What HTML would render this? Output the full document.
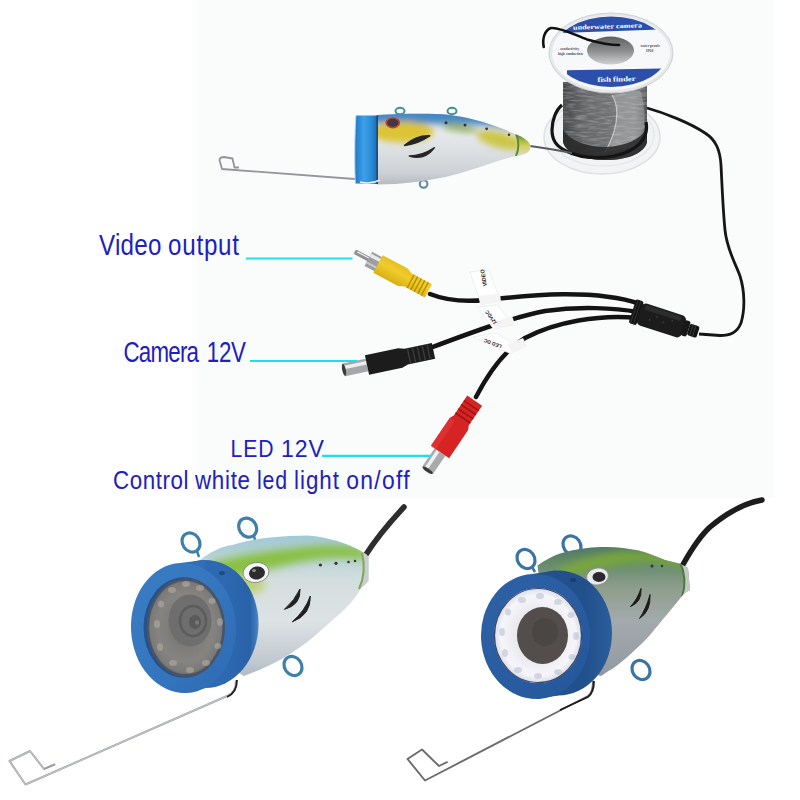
<!DOCTYPE html>
<html><head><meta charset="utf-8"><title>Underwater fish finder camera</title>
<style>
html,body{margin:0;padding:0;background:#fff;width:800px;height:800px;overflow:hidden}
svg{display:block}
text{font-family:"Liberation Sans",sans-serif}
</style></head><body>
<svg width="800" height="800" viewBox="0 0 800 800">
<defs>
  <linearGradient id="capTop" x1="0" y1="0" x2="1" y2="0">
    <stop offset="0" stop-color="#1f78c8"/><stop offset="0.4" stop-color="#3ea0e8"/><stop offset="0.75" stop-color="#2a8ad6"/><stop offset="1" stop-color="#1e68ae"/>
  </linearGradient>
  <linearGradient id="bodyTop" x1="0" y1="0" x2="0" y2="1">
    <stop offset="0" stop-color="#4a8cc0"/><stop offset="0.12" stop-color="#8db8d6"/>
    <stop offset="0.22" stop-color="#c9c86a"/><stop offset="0.38" stop-color="#d8cf58"/>
    <stop offset="0.55" stop-color="#e6e8ea"/><stop offset="0.8" stop-color="#d6dadd"/><stop offset="1" stop-color="#aeb4ba"/>
  </linearGradient>
  <linearGradient id="drum" x1="0" y1="0" x2="1" y2="0">
    <stop offset="0" stop-color="#46484a"/><stop offset="0.25" stop-color="#66686a"/><stop offset="0.55" stop-color="#707274"/><stop offset="0.85" stop-color="#7a7c7e"/><stop offset="1" stop-color="#505254"/>
  </linearGradient>
  <linearGradient id="hole" x1="0" y1="0" x2="0" y2="1">
    <stop offset="0" stop-color="#5e6062"/><stop offset="0.5" stop-color="#8a8c8e"/><stop offset="1" stop-color="#cfd1d3"/>
  </linearGradient>
  <linearGradient id="yellow" x1="0" y1="0" x2="0" y2="1">
    <stop offset="0" stop-color="#e6c020"/><stop offset="0.4" stop-color="#f0cc2c"/><stop offset="1" stop-color="#d8b014"/>
  </linearGradient>
  <linearGradient id="bodyL" x1="0" y1="0" x2="0" y2="1">
    <stop offset="0" stop-color="#9cc6d8"/><stop offset="0.12" stop-color="#b0cfd8"/>
    <stop offset="0.3" stop-color="#d4dede"/><stop offset="0.55" stop-color="#dde2e4"/>
    <stop offset="0.8" stop-color="#c0c8d0"/><stop offset="1" stop-color="#9aa8b8"/>
  </linearGradient>
  <linearGradient id="bodyR" x1="0" y1="0" x2="0" y2="1">
    <stop offset="0" stop-color="#4a6e6c"/><stop offset="0.12" stop-color="#5e8868"/>
    <stop offset="0.3" stop-color="#8e9e8c"/><stop offset="0.5" stop-color="#a2aaac"/>
    <stop offset="0.8" stop-color="#949ca4"/><stop offset="1" stop-color="#7a8494"/>
  </linearGradient>
  <radialGradient id="lensL" cx="0.5" cy="0.5" r="0.5">
    <stop offset="0" stop-color="#707070"/><stop offset="0.7" stop-color="#868480"/><stop offset="0.92" stop-color="#7a7a7a"/><stop offset="1" stop-color="#4c525c"/>
  </radialGradient>
  <radialGradient id="ledR" cx="0.5" cy="0.5" r="0.5">
    <stop offset="0.5" stop-color="#e8e8ef"/><stop offset="0.85" stop-color="#f6f6fa"/><stop offset="1" stop-color="#d8dce8"/>
  </radialGradient>
  <linearGradient id="tcBase" x1="0" y1="0" x2="0" y2="1">
    <stop offset="0" stop-color="#c0d2e0"/><stop offset="0.35" stop-color="#e6e9ec"/><stop offset="0.55" stop-color="#dcdfe2"/><stop offset="0.8" stop-color="#cdd1d5"/><stop offset="1" stop-color="#aab0b6"/>
  </linearGradient>
  <filter id="blur4" x="-20%" y="-50%" width="140%" height="200%"><feGaussianBlur stdDeviation="4"/></filter>
  <filter id="blur2" x="-20%" y="-50%" width="140%" height="200%"><feGaussianBlur stdDeviation="2"/></filter>
  <linearGradient id="ringBandL" x1="0" y1="0" x2="1" y2="0">
    <stop offset="0" stop-color="#306eb6"/><stop offset="0.7" stop-color="#2d68b0"/><stop offset="0.92" stop-color="#2a62a8"/><stop offset="1" stop-color="#4a86c4"/>
  </linearGradient>
  <linearGradient id="ringFaceL" x1="0" y1="0" x2="1" y2="1">
    <stop offset="0" stop-color="#3a7ec6"/><stop offset="0.6" stop-color="#3474bc"/><stop offset="1" stop-color="#2d6ab2"/>
  </linearGradient>
  <linearGradient id="ringBandR" x1="0" y1="0" x2="1" y2="0">
    <stop offset="0" stop-color="#22528e"/><stop offset="0.75" stop-color="#21508c"/><stop offset="1" stop-color="#2c5e9c"/>
  </linearGradient>
  <linearGradient id="ringFaceR" x1="0" y1="0" x2="1" y2="1">
    <stop offset="0" stop-color="#2e62a6"/><stop offset="1" stop-color="#24569a"/>
  </linearGradient>
  <filter id="blur3" x="-20%" y="-50%" width="140%" height="200%"><feGaussianBlur stdDeviation="3"/></filter>
  <filter id="noise" x="0" y="0" width="100%" height="100%">
    <feTurbulence type="fractalNoise" baseFrequency="0.08 0.5" numOctaves="2" seed="3"/>
    <feColorMatrix type="matrix" values="0 0 0 0 0.55  0 0 0 0 0.56  0 0 0 0 0.57  0 0 0 2.2 -0.9"/>
  </filter>
  <linearGradient id="noseG" x1="0" y1="0" x2="0" y2="1">
    <stop offset="0" stop-color="#4e7a30"/><stop offset="0.3" stop-color="#a8b840"/><stop offset="0.55" stop-color="#d4d060"/><stop offset="1" stop-color="#d8dcd8"/>
  </linearGradient>
</defs>

<!-- background photo region -->
<rect x="0" y="0" width="800" height="800" fill="#ffffff"/>
<rect x="192" y="0" width="6" height="498" fill="#fdfdfd"/><rect x="198" y="0" width="576" height="498" fill="#fafbfb"/>

<!-- ============ SPOOL ============ -->
<g id="spool">
  <ellipse cx="602" cy="137" rx="58" ry="37" fill="#f1f3f4" stroke="#dde1e3" stroke-width="1.5"/>
  <ellipse cx="603" cy="135" rx="51" ry="31" fill="none" stroke="#e2e5e7" stroke-width="1.2"/>
  <path d="M563,82 L563,142 C566,153 582,160 606,160 C630,160 645,152 647,142 L647,82 Z" fill="url(#drum)"/>
  <clipPath id="drumClip"><path d="M563,82 L563,142 C566,153 582,160 606,160 C630,160 645,152 647,142 L647,82 Z"/></clipPath>
  <g clip-path="url(#drumClip)">
    <rect x="560" y="80" width="90" height="82" filter="url(#noise)" opacity="0.45"/>
  </g>
  <path d="M612,95 C622,110 615,135 605,152 L640,146 C646,130 646,105 640,90 Z" fill="#c8cacc" opacity="0.35"/>
  <path d="M612,95 C622,110 615,135 605,152" stroke="#d8dadc" stroke-width="1.2" fill="none" opacity="0.8"/>
  <path d="M563,130 L563,142 C566,153 582,160 606,160 C630,160 645,152 647,142 L647,128 C640,140 625,146 606,147 C585,147 570,140 563,130 Z" fill="#262626" opacity="0.85"/>
  <path d="M562,105 C556,110 552,120 552,130 C552,140 556,146 566,151 C578,157 596,159 614,156 C628,153 640,146 645,136 C647,130 647,126 646,122" stroke="#141414" stroke-width="3.2" fill="none"/>
<ellipse cx="611" cy="53" rx="62" ry="40" fill="#e6e8ea" stroke="#cfd3d6" stroke-width="1"/>
  <ellipse cx="611" cy="53" rx="59" ry="37" fill="#f7f8f9"/>
  <clipPath id="labelClip"><ellipse cx="611" cy="52.5" rx="56.5" ry="34.5"/></clipPath>
  <clipPath id="labelClip2"><ellipse cx="611" cy="53" rx="58" ry="36.5"/></clipPath>
  <g clip-path="url(#labelClip2)">
    <path d="M560,10 L660,10 L660,29.5 L560,33 Z" fill="#2b4fab"/>
  </g>
  <g clip-path="url(#labelClip)">
    <path d="M567,70.3 L662,68.4 L662,100 L567,100 Z" fill="#2b4fab"/>
  </g>
  <text x="573" y="28.5" font-size="6.5" fill="#fff" style="font-family:'Liberation Serif',serif" font-weight="bold" textLength="69" lengthAdjust="spacingAndGlyphs" transform="rotate(-2 607 26)">underwater camera</text>
  <text x="597.5" y="81.5" font-size="7" fill="#fff" style="font-family:'Liberation Serif',serif" font-weight="bold" textLength="38" lengthAdjust="spacingAndGlyphs" transform="rotate(-1.5 617 79)">fish finder</text>
  <text x="560" y="50" font-size="3.6" fill="#555" style="font-family:'Liberation Serif',serif" font-weight="bold">conductivity</text>
  <text x="558" y="55" font-size="3.6" fill="#555" style="font-family:'Liberation Serif',serif" font-weight="bold">high conduction</text>
  <text x="640.5" y="47" font-size="3.6" fill="#555" style="font-family:'Liberation Serif',serif" font-weight="bold">water proofs</text>
  <text x="646" y="51.5" font-size="3.6" fill="#555" style="font-family:'Liberation Serif',serif" font-weight="bold">IP68</text>
  <ellipse cx="610.5" cy="50.6" rx="23.5" ry="14" fill="url(#hole)"/>
  <path d="M543.75,47 C542,38 545,30 551,28 C560,27 575,35 587,39.4 C600,43 610,45 619,45" stroke="#111" stroke-width="2.6" fill="none" stroke-linecap="round"/>
  <!-- cable leaving spool right -->
  <path d="M647,108 C665,113 690,123 705,133 C716,140 720,150 721,165 C722,185 723,210 725,230 C727,250 735,262 740,276 C745,292 745,310 741,323 C737,333 730,335.5 720,335.5 L699,334" stroke="#161616" stroke-width="2.8" fill="none"/>
</g>

<!-- ============ TOP FISH CAMERA ============ -->
<g id="topcam">
  <path d="M530,146 C545,148 558,150 572,153" stroke="#5a5c5e" stroke-width="2.2" fill="none"/>
  <path d="M381,181 C340,178 290,174 222,169 L219.5,160 C220,157 222,157 224,157 L232.5,158.5 L234.5,167.5 L239,167.5" stroke="#92969a" stroke-width="1.8" fill="none" stroke-linejoin="round"/>
  <ellipse cx="400" cy="111" rx="4.5" ry="3.2" fill="none" stroke="#3f8f96" stroke-width="2"/>
  <ellipse cx="452" cy="111" rx="4.5" ry="3.2" fill="none" stroke="#3f8f96" stroke-width="2"/>
  <ellipse cx="423.6" cy="184" rx="3.8" ry="3.8" fill="none" stroke="#5a8a98" stroke-width="2"/>
  <clipPath id="tcClip"><path d="M377,115 C400,114 430,113 450,115 C475,118 500,127 516,134.5 C524,137 530,142 530.5,146 C531,151 527,155 516,156 C500,160 490,164 480,167 C465,172 450,176 440,178 C425,181 410,183 395,184 L377,184.6 Z"/></clipPath>
  <g clip-path="url(#tcClip)">
    <rect x="370" y="105" width="170" height="85" fill="url(#tcBase)"/>
    <g filter="url(#blur3)">
      <path d="M370,106 L460,106 C480,110 500,116 520,126 L520,132 C500,126 480,124 460,124 C430,124 400,123 370,123 Z" fill="#4788c2"/>
      <ellipse cx="402" cy="132" rx="32" ry="10.5" fill="#dcc434"/>
      <ellipse cx="500" cy="140" rx="24" ry="8" fill="#ccc648" transform="rotate(15 500 140)"/>
      <ellipse cx="460" cy="128" rx="18" ry="4" fill="#9fb870" transform="rotate(8 460 128)"/>
    </g>
    <path d="M516,134 C524,137 530,142 530.5,146 C531,151 527,155 516,156 C519,149 519,141 516,134 Z" fill="url(#noseG)"/>
    <path d="M516,134 C519,141 519,149 516,156" stroke="#5c8a3a" stroke-width="2" fill="none"/>
  </g>
  <path d="M377.5,115.5 L356,115.5 C354.6,130 354.4,170 355.4,183.6 L377.5,184 Z" fill="url(#capTop)"/>
  <path d="M356,115.5 C354.6,130 354.4,170 355.4,183.6" stroke="#b8d8f0" stroke-width="1" fill="none"/>
  <path d="M377.2,115.5 L377.2,184" stroke="#1c3a5c" stroke-width="1.3"/>
  <path d="M360,182 C368,184 374,183 380,180" stroke="#e8eef4" stroke-width="1.4" fill="none"/>
  <ellipse cx="392.8" cy="122.8" rx="6.5" ry="4.8" fill="#3c3a44" stroke="#c4402e" stroke-width="1.6"/>
  <path d="M404.6,145.4 C412,139 420,135.5 429.6,135.9 C422,141 414,144.5 404.6,145.4 Z" fill="#262626" stroke="#262626" stroke-width="1.6" stroke-linejoin="round"/>
  <path d="M409.4,156 C418,156 427,152.5 434.3,147.8 C428,156 419,159 409.4,156 Z" fill="#262626" stroke="#262626" stroke-width="1.6" stroke-linejoin="round"/>
  <circle cx="446" cy="122.8" r="1.5" fill="#2c3440"/>
  <circle cx="465" cy="125" r="1.5" fill="#2c3440"/>
  <circle cx="486.6" cy="128.8" r="1.4" fill="#2c3440"/>
  <circle cx="509" cy="134.7" r="1.2" fill="#2c3440"/>
</g>

<!-- ============ CABLES / CONNECTORS ============ -->
<g id="cables" fill="none" stroke-linecap="round">
  <!-- video cable -->
  <path d="M430,294 C445,300 465,302 485,300 C515,297 590,287 640,304" stroke="#141414" stroke-width="4.5"/>
  <!-- camera 12V cable -->
  <path d="M430,348 C470,333 510,318 545,311 C580,306 615,308 638,312" stroke="#141414" stroke-width="4.5"/>
  <!-- LED cable -->
  <path d="M476,397 C490,370 505,350 525,338 C555,322 600,314 638,318" stroke="#141414" stroke-width="4.5"/>
</g>
<!-- labels on cables -->
<g>
  <path d="M470,272 L489,270 L499,297 L480,301 Z" fill="#ffffff" stroke="#e4e4e4" stroke-width="0.6"/>
  <path d="M479,296 L500,293.5 L501,302 L480,305 Z" fill="#f4f4f4"/>
  <path d="M477,307 L497.6,305 L513,325 L493.5,329 Z" fill="#ffffff" stroke="#e4e4e4" stroke-width="0.6"/>
  <path d="M493,322 L512,316 L515,324 L496,330 Z" fill="#f4f4f4"/>
  <path d="M473,337 L496,333 L522,348 L510,353.5 Z" fill="#ffffff" stroke="#e4e4e4" stroke-width="0.6"/>
  <path d="M508,344 L523,338 L527,346 L512,353 Z" fill="#f4f4f4"/>
  <text x="0" y="0" font-size="5.5" fill="#222" font-weight="bold" transform="translate(487,286) rotate(-100)">VIDEO</text>
  <text x="0" y="0" font-size="5" fill="#222" font-weight="bold" transform="translate(497,323) rotate(-125)">12VDC</text>
  <text x="0" y="0" font-size="5" fill="#222" font-weight="bold" transform="translate(502,345) rotate(-160)">LED DC</text>
</g>
<!-- splitter -->
<g transform="translate(660 320) rotate(18)">
  <rect x="-29" y="-12.5" width="8" height="25" rx="2" fill="#141414"/>
  <path d="M-27,-12 L-27,12 M-24,-12 L-24,12" stroke="#333" stroke-width="0.9"/>
  <rect x="-22" y="-11.5" width="47" height="23" rx="5" fill="#1c1c1c"/>
  <rect x="-18" y="-10" width="38" height="5" rx="2" fill="#2c2c2c"/>
  <circle cx="-4" cy="-2" r="0.8" fill="#444"/><circle cx="4" cy="1" r="0.8" fill="#444"/><circle cx="12" cy="-3" r="0.8" fill="#444"/><circle cx="-10" cy="3" r="0.8" fill="#444"/>
  <rect x="24" y="-8" width="6" height="16" rx="2" fill="#181818"/>
  <rect x="30" y="-6" width="10" height="12" rx="2" fill="#141414"/>
  <path d="M33,-6 L33,6 M36,-6 L36,6" stroke="#3a3a3a" stroke-width="1"/>
</g>

<!-- RCA yellow plug -->
<g transform="translate(378 264) rotate(28)">
  <path d="M-25,-2.5 L-4,-2.5 L-4,2.5 L-25,2.5 C-27,2.5 -27,-2.5 -25,-2.5 Z" fill="#8e9092"/>
  <path d="M-24,-1.6 L-4,-1.6 L-4,-0.4 L-24,-0.4 Z" fill="#eceeef"/>
  <path d="M-11,-8 L2,-8 L2,8 L-11,8 Z" fill="#9c9ea0"/>
  <path d="M-11,-6 L2,-6 L2,-2.5 L-11,-2.5 Z" fill="#e8eaeb"/>
  <path d="M-11,3 L2,3 L2,5 L-11,5 Z" fill="#c8cacc"/>
  <path d="M0,-10 L28,-10 L34,-7.5 L57,-7.5 L57,7.5 L34,7.5 L28,10 L0,10 Z" fill="url(#yellow)"/>
  <path d="M37,-7.5 L37,7.5 M41,-7.5 L41,7.5 M45,-7.5 L45,7.5 M49,-7.5 L49,7.5 M53,-7.5 L53,7.5" stroke="#b88e00" stroke-width="1.5"/>
</g>
<!-- DC plug black -->
<g transform="translate(367 365) rotate(-12)">
  <path d="M-23.5,-6.5 L0,-6.5 L0,6.5 L-23.5,6.5 C-25.5,6.5 -25.5,-6.5 -23.5,-6.5 Z" fill="#a4a6a8"/>
  <path d="M-23,-4 L0,-4 L0,-0.5 L-23,-0.5 Z" fill="#eceeef"/>
  <ellipse cx="-23.5" cy="0" rx="1.8" ry="6" fill="#3a3a3a"/>
  <path d="M0,-10 L34,-10 L40,-8 L68,-8 L68,8 L40,8 L34,10 L0,10 Z" fill="#1c1c1c"/>
  <path d="M43,-8 L43,8 M48,-8 L48,8 M53,-8 L53,8 M58,-8 L58,8 M63,-8 L63,8" stroke="#3c3c3c" stroke-width="1.4"/>
</g>
<!-- DC plug red -->
<g transform="translate(440 452) rotate(-56)">
  <path d="M-22,-6.5 L0,-6.5 L0,6.5 L-22,6.5 C-24,6.5 -24,-6.5 -22,-6.5 Z" fill="#a8aaac"/>
  <path d="M-22,-4 L0,-4 L0,-0.5 L-22,-0.5 Z" fill="#eef0f1"/>
  <ellipse cx="-22" cy="0" rx="1.8" ry="6" fill="#3a3a3a"/>
  <path d="M0,-11 L34,-11 L38,-9 L62,-9 L62,9 L38,9 L34,11 L0,11 Z" fill="#d62424"/>
  <path d="M0,-11 L34,-11 L34,-5 L0,-5 Z" fill="#e23838" opacity="0.6"/>
  <path d="M41,-9 L41,9 M46,-9 L46,9 M51,-9 L51,9 M56,-9 L56,9" stroke="#a01414" stroke-width="1.6"/>
</g>

<!-- ============ TEXT ============ -->
<g fill="#2020c0">
  <text transform="scale(0.8 1)" x="123.75" y="254.7" font-size="30.2" textLength="78.13" lengthAdjust="spacing">Video</text>
  <text transform="scale(0.8 1)" x="210.00" y="254.7" font-size="30.2" textLength="88.75" lengthAdjust="spacing">output</text>
  <text transform="scale(0.78 1)" x="158.33" y="361.8" font-size="28.6" textLength="96.79" lengthAdjust="spacing">Camera</text>
  <text transform="scale(0.78 1)" x="265.06" y="361.8" font-size="28.6" textLength="50.32" lengthAdjust="spacing">12V</text>
  <text transform="scale(0.87 1)" x="264.94" y="456.7" font-size="24.3" textLength="49.43" lengthAdjust="spacing">LED</text>
  <text transform="scale(0.95 1)" x="295.79" y="456.7" font-size="24.3" textLength="45.26" lengthAdjust="spacing">12V</text>
  <text transform="scale(0.84 1)" x="134.52" y="489.5" font-size="26.6" textLength="89.88" lengthAdjust="spacing">Control</text>
  <text transform="scale(0.84 1)" x="232.14" y="489.5" font-size="26.6" textLength="65.48" lengthAdjust="spacing">white</text>
  <text transform="scale(0.8 1)" x="321.25" y="489.5" font-size="26.6" textLength="37.50" lengthAdjust="spacing">led</text>
  <text transform="scale(0.84 1)" x="350.00" y="489.5" font-size="26.6" textLength="53.57" lengthAdjust="spacing">light</text>
  <text transform="scale(0.86 1)" x="402.62" y="489.5" font-size="26.6" textLength="73.55" lengthAdjust="spacing">on/off</text>
</g>
<g stroke="#22dde6" stroke-width="2.2">
  <line x1="246" y1="258.5" x2="352.5" y2="258.5"/>
  <line x1="250" y1="361" x2="357" y2="361"/>
  <line x1="322" y1="455.8" x2="430.5" y2="455.8"/>
</g>

<!-- ============ BOTTOM LEFT CAMERA ============ -->
<g id="camL">
  <path d="M365,556 C375,540 390,522 404,507" stroke="#2e2e2e" stroke-width="5.5" fill="none" stroke-linecap="round"/>
  <path d="M236,681 C236,690 233,694 227,696 L25.5,784.5 L9.5,761 L30,751 L44,769 L54.5,764.5" stroke="#9a9ea2" stroke-width="2" fill="none" stroke-linejoin="round" stroke-linecap="round"/>
  <path d="M227,696 L25.5,784.5 L9.5,761 L30,751 L44,769" stroke="#e4e6e8" stroke-width="0.6" fill="none" stroke-linejoin="round"/>
  <path d="M237,680 C237,689 234,694 227,697" stroke="#1c1c1c" stroke-width="1.8" fill="none"/>
  <g fill="none" stroke="#3f80a8" stroke-width="3.2">
    <ellipse cx="191" cy="542.5" rx="8.5" ry="10" transform="rotate(-35 191 542.5)"/>
    <ellipse cx="247.7" cy="527.6" rx="8.5" ry="10" transform="rotate(-35 247.7 527.6)"/>
    <ellipse cx="293" cy="666" rx="8.5" ry="10" transform="rotate(-35 293 666)"/>
    <path d="M197,551 L199,557 M254,536 L255,540" stroke-width="2.5"/>
  </g>
  <clipPath id="lbClip"><path d="M200,560 C210,552 222,546 232.5,545 C245,541 257,539 270,537.5 C283,536.5 295,535.6 307.5,535.6 C318,536.5 328,538.5 337.5,541 C346,544 354,547 360,550.6 L366,554 L368.5,557 L368.5,581 C366,584 363,586 360,590 C355,598 350,604 345,609 C338,616 330,622 322.5,629 C314,637 305,644 296,650 C287,656 279,661 270,665 C262,669 252,673 243.7,676 L220,660 Z"/></clipPath>
  <g clip-path="url(#lbClip)">
    <rect x="185" y="530" width="190" height="165" fill="url(#bodyL)"/>
    <g filter="url(#blur4)">
      <path d="M215,580 C240,575 265,570 295,563 C320,558 345,556 364,560 L364,548 C340,544 315,545 295,548 C265,551 240,555 212,562 Z" fill="#88c040"/>
      <ellipse cx="245" cy="585" rx="20" ry="9" fill="#b8cc58" opacity="0.8"/>
    </g>
    <path d="M362,553 L369,555 L369,582 L359,589 C364,578 365,565 362,553 Z" fill="#c8cdcf"/>
    <path d="M362,553 C365,565 364,578 359,589" stroke="#80a850" stroke-width="2" fill="none"/>
  </g>
  <ellipse cx="256" cy="572.5" rx="13" ry="10" fill="#f4f5f6" stroke="#7a8284" stroke-width="0.8" transform="rotate(-10 256 572.5)"/>
  <ellipse cx="257" cy="573" rx="8" ry="6.5" fill="#2c2c30" transform="rotate(-10 257 573)"/>
  <ellipse cx="254" cy="570.5" rx="2" ry="1.5" fill="#8a8a90"/>
  <path d="M284.4,609.4 Q301,605 300,589 Q295,600 284.4,609.4 Z" fill="#202020" stroke="#202020" stroke-width="1" stroke-linejoin="round"/>
  <path d="M292.3,621.8 Q311,615 310.3,596 Q305,611 292.3,621.8 Z" fill="#202020" stroke="#202020" stroke-width="1" stroke-linejoin="round"/>
  <g fill="#333"><circle cx="320.4" cy="565" r="1.6"/><circle cx="336" cy="563.3" r="1.6"/><circle cx="348.5" cy="562" r="1.3"/><circle cx="355" cy="561" r="1.2"/></g>
  <!-- blue cylinder -->
  <ellipse cx="205" cy="624" rx="53.5" ry="64" fill="url(#ringBandL)"/>
  <path d="M180,563 L205,560 L206,688 L181,693 Z" fill="#306eb6"/>
  <ellipse cx="183.5" cy="628" rx="52.5" ry="65" fill="url(#ringFaceL)" transform="rotate(-3 183.5 628)"/>
  <ellipse cx="222" cy="573" rx="3" ry="2" fill="#1d4a80"/>
  <ellipse cx="184" cy="627.5" rx="40.5" ry="50.2" fill="#24528e"/>
  <ellipse cx="185.7" cy="627.5" rx="39" ry="49" fill="url(#lensL)"/>
  <ellipse cx="185.7" cy="627.5" rx="38" ry="48" fill="none" stroke="#4a5464" stroke-width="2.5" stroke-dasharray="0 0"/>
  <g fill="#b4aca0" opacity="0.6">
    <ellipse cx="172" cy="590" rx="4" ry="3"/><ellipse cx="186" cy="584" rx="4" ry="3"/><ellipse cx="200" cy="588" rx="4" ry="3"/>
    <ellipse cx="212" cy="601" rx="3.5" ry="3"/><ellipse cx="220" cy="622" rx="3" ry="4"/><ellipse cx="218" cy="646" rx="3.5" ry="3"/>
    <ellipse cx="206" cy="663" rx="4" ry="3"/><ellipse cx="190" cy="670" rx="4" ry="3"/><ellipse cx="173" cy="663" rx="4" ry="3"/>
    <ellipse cx="160" cy="647" rx="3" ry="4"/><ellipse cx="157" cy="624" rx="3" ry="4"/><ellipse cx="161" cy="604" rx="3" ry="3.5"/>
  </g>
  <ellipse cx="190" cy="620.5" rx="21.5" ry="26" fill="#6e6e6e"/>
  <ellipse cx="193" cy="621" rx="13" ry="15" fill="none" stroke="#5c5c5c" stroke-width="2.5"/>
  <ellipse cx="195" cy="622" rx="6" ry="7" fill="#5a5a5a"/>
  <ellipse cx="197" cy="622.5" rx="2" ry="2.2" fill="#7a7a7a"/>
</g>

<!-- ============ BOTTOM RIGHT CAMERA ============ -->
<g id="camR">
  <path d="M683,564.5 C690,552 698,538 710,527 C728,512 745,503 762,500" stroke="#1c1c1c" stroke-width="5.5" fill="none" stroke-linecap="round"/>
  <path d="M593,681.5 C593,690 591,694 588,696 L425,780.5 L407.5,759 L422,749.5 L439,766 L447,762.2" stroke="#6a6c6e" stroke-width="1.9" fill="none" stroke-linejoin="round" stroke-linecap="round"/>
  <path d="M594,681 C594,690 592,694 588,697 L560,710" stroke="#1c1c1c" stroke-width="1.8" fill="none"/>
  <g fill="none" stroke="#3a74a0" stroke-width="3.2">
    <ellipse cx="526" cy="559" rx="8.5" ry="10" transform="rotate(-35 526 559)"/>
    <ellipse cx="572" cy="545.5" rx="8.5" ry="10" transform="rotate(-35 572 545.5)"/>
    <ellipse cx="641" cy="670" rx="8.5" ry="10" transform="rotate(-35 641 670)"/>
    <path d="M532,567 L535,572 M578,554 L580,557" stroke-width="2.5"/>
  </g>
  <clipPath id="rbClip"><path d="M537.5,565.6 C545,560 554,555 563.7,552.5 C575,549 588,547.5 601,547 C614,546.5 627,548 638.7,550.6 C648,553 657,557 665,560 L680,563.7 L688,568 L690,590 L683.7,593.7 C679,600 674,606 668.7,612.5 C662,620 656,628 650,635 C644,642 637,648 631,653.7 C625,659 619,664 612.5,668.7 C608,671 604,674 601,676 L580,670 L545,620 Z"/></clipPath>
  <g clip-path="url(#rbClip)">
    <rect x="530" y="540" width="160" height="160" fill="url(#bodyR)"/>
    <g filter="url(#blur4)">
      <path d="M560,580 C580,572 605,566 630,563 C650,561 665,562 684,568 L684,558 C662,552 640,551 620,552 C598,554 578,560 556,570 Z" fill="#7aa838"/>
    </g>
    <path d="M680,562 L690,567 L690,590 L682,597 C686,585 685,573 680,562 Z" fill="#c4c8c4"/>
    <path d="M680,562 C685,573 686,585 682,597" stroke="#4a7a3a" stroke-width="2" fill="none"/>
  </g>
  <ellipse cx="597.5" cy="576.5" rx="11" ry="8.5" fill="#e8eaec" stroke="#8a8e92" stroke-width="0.8" transform="rotate(-10 597.5 576.5)"/>
  <ellipse cx="599" cy="577" rx="6.5" ry="5" fill="#2a2a2e"/>
  <path d="M630.5,606.5 Q642,602 641,588.5 Q637,600 630.5,606.5 Z" fill="#1c1c1c" stroke="#1c1c1c" stroke-width="1" stroke-linejoin="round"/>
  <path d="M639.5,618.5 Q651,611 650,594.5 Q646,609 639.5,618.5 Z" fill="#1c1c1c" stroke="#1c1c1c" stroke-width="1" stroke-linejoin="round"/>
  <g fill="#333"><circle cx="652" cy="566" r="1.5"/><circle cx="662" cy="566" r="1.2"/></g>
  <!-- blue cylinder -->
  <ellipse cx="558" cy="633" rx="54" ry="62.5" fill="url(#ringBandR)"/>
  <path d="M532,574 L556,570.5 L558,695.5 L537,699 Z" fill="#22528e"/>
  <ellipse cx="535.5" cy="636.5" rx="54.5" ry="62.5" fill="url(#ringFaceR)" transform="rotate(-3 535.5 636.5)"/>
  <ellipse cx="573" cy="580" rx="3" ry="2" fill="#1a3c70"/>
  <ellipse cx="538" cy="635.5" rx="44" ry="47.5" fill="url(#ledR)"/>
  <ellipse cx="538" cy="635.5" rx="43.5" ry="47" fill="none" stroke="#3a4868" stroke-width="1.2"/>
  <g fill="#b8bccc" opacity="0.55">
    <ellipse cx="522" cy="600" rx="4" ry="3"/><ellipse cx="540" cy="596" rx="4" ry="3"/><ellipse cx="558" cy="602" rx="4" ry="3"/>
    <ellipse cx="571" cy="615" rx="3.5" ry="3"/><ellipse cx="576" cy="636" rx="3" ry="4"/><ellipse cx="572" cy="657" rx="3.5" ry="3"/>
    <ellipse cx="558" cy="672" rx="4" ry="3"/><ellipse cx="538" cy="676" rx="4" ry="3"/><ellipse cx="518" cy="670" rx="4" ry="3"/>
    <ellipse cx="505" cy="653" rx="3" ry="4"/><ellipse cx="502" cy="632" rx="3" ry="4"/><ellipse cx="508" cy="612" rx="3" ry="3.5"/>
  </g>
  <ellipse cx="542.5" cy="635.5" rx="25.5" ry="28.5" fill="#534e4b"/>
  <ellipse cx="545" cy="632" rx="13" ry="14" fill="#4a4643"/>
</g>
</svg>
</body></html>
